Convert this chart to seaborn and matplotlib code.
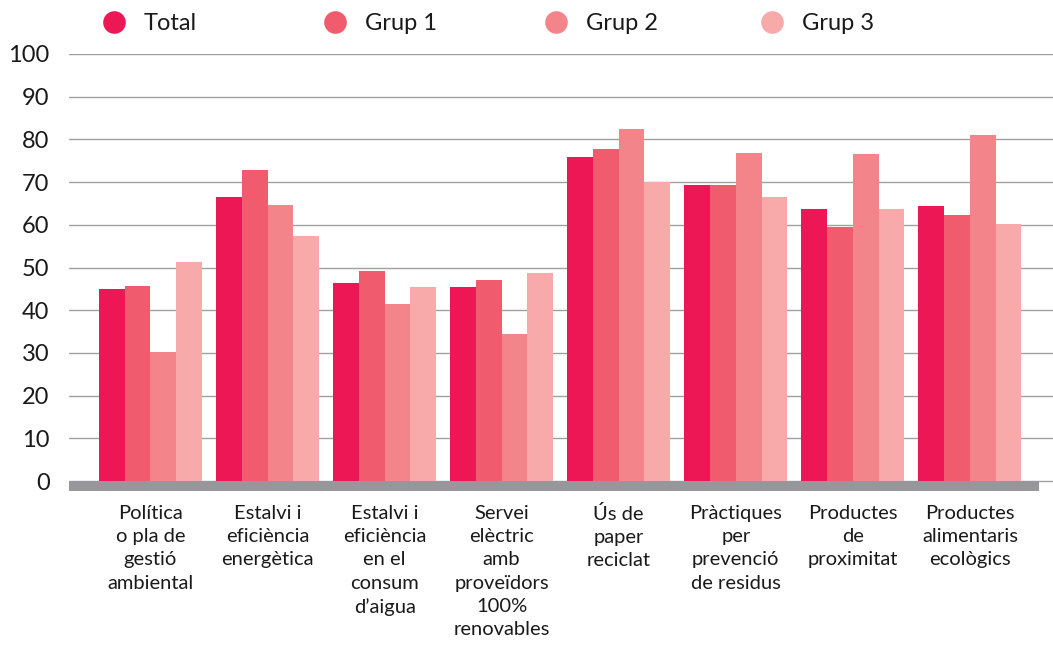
import pandas as pd
import seaborn as sns
import matplotlib.pyplot as plt
from matplotlib.lines import Line2D

# categories and values
categories = [
    "Política\no pla de\ngestió\nambiental",
    "Estalvi i\neficiència\nenergètica",
    "Estalvi i\neficiència\nen el\nconsum\nd’aigua",
    "Servei\nelèctric\namb\nproveïdors\n100%\nrenovables",
    "Ús de\npaper\nreciclat",
    "Pràctiques\nper\nprevenció\nde residus",
    "Productes\nde\nproximitat",
    "Productes\nalimentaris\necològics",
]
groups = ["Total", "Grup 1", "Grup 2", "Grup 3"]
total = [45.0, 66.5, 46.4, 45.5, 75.8, 69.3, 63.7, 64.4]
grup1 = [45.7, 72.8, 49.2, 47.1, 77.7, 69.3, 59.5, 62.3]
grup2 = [30.3, 64.6, 41.5, 34.5, 82.4, 76.8, 76.5, 81.0]
grup3 = [51.3, 57.4, 45.5, 48.8, 70.0, 66.5, 63.7, 60.2]
colors = ["#ED1756", "#F05C6E", "#F3858A", "#F8AAAA"]

rows = []
for g, vals in zip(groups, [total, grup1, grup2, grup3]):
    for c, v in zip(categories, vals):
        rows.append({"cat": c, "grup": g, "val": v})
df = pd.DataFrame(rows)

sns.set_theme(style="white")
plt.rcParams["font.family"] = ["Lato", "DejaVu Sans"]
plt.rcParams["text.color"] = "#1a1a1a"

fig = plt.figure(figsize=(10.53, 6.5), dpi=100)
ax = fig.add_axes([69 / 1053, 1 - 491 / 650, 984 / 1053, (491 - 54) / 650])

sns.barplot(data=df, x="cat", y="val", hue="grup", hue_order=groups,
            palette=colors, width=0.88, saturation=1, gap=0, linewidth=0,
            edgecolor="none", legend=False, ax=ax, zorder=3)

base = 10 / ((482 - 54) / 100)  # thickness of the grey base band in data units
ax.set_ylim(-base, 100)
ax.set_xlim(-0.696, 7.71)
ax.set_yticks(range(0, 101, 10))
ax.yaxis.grid(True, color="#a0a0a0", linewidth=1, zorder=0)
ax.axhspan(-base, 0, xmax=(1039 - 69) / 984, color="#97969b", zorder=4, lw=0)

for s in ax.spines.values():
    s.set_visible(False)
ax.tick_params(axis="y", length=0, pad=14, labelsize=17, labelcolor="#1a1a1a")
ax.tick_params(axis="x", length=0, pad=10, labelsize=14.5, labelcolor="#1a1a1a")
for t in ax.get_xticklabels():
    t.set_linespacing(1.45)
ax.set_xlabel("")
ax.set_ylabel("")

# legend: one entry per position, evenly spaced like the original
marker_x = [114, 335, 556, 772]
fs = 17
for g, c, mx in zip(groups, colors, marker_x):
    h = Line2D([], [], marker="o", linestyle="", markersize=16.3,
               markerfacecolor=c, markeredgewidth=0)
    hl_px = 1.2 * fs * 100 / 72
    fig.legend([h], [g], loc="center left",
               bbox_to_anchor=((mx - hl_px / 2) / 1053, 1 - 24 / 650),
               frameon=False, fontsize=fs, handletextpad=0.65,
               handlelength=1.2, borderpad=0, borderaxespad=0)

fig.savefig("out.png", dpi=100)
